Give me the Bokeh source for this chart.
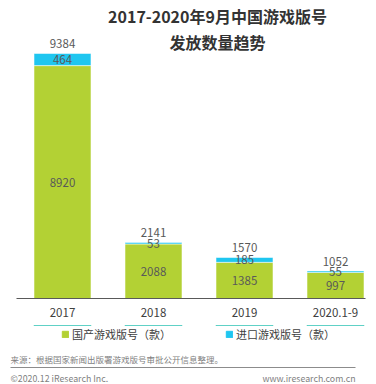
from bokeh.plotting import figure
from bokeh.layouts import column
from bokeh.models import (ColumnDataSource, LabelSet, Label, Legend, LegendItem,
                          FixedTicker, BoxAnnotation, Range1d)
from bokeh.core.properties import value
from bokeh.embed import file_html
from bokeh.resources import INLINE

categories = ["2017", "2018", "2019", "2020.1-9"]
domestic = [8920, 2088, 1385, 997]
imported = [464, 53, 185, 55]
totals = [9384, 2141, 1570, 1052]
series_names = ["国产游戏版号（款）", "进口游戏版号（款）"]

GREEN = "#B3D134"
CYAN = "#1FC6F0"
FONT = "Noto Sans CJK SC"

xs = list(range(len(categories)))
src = ColumnDataSource(dict(
    x=xs, domestic=domestic, imported=imported, total=totals,
    dom_mid=[d / 2 for d in domestic],
    imp_mid=[d + i / 2 for d, i in zip(domestic, imported)],
    dom_txt=[str(v) for v in domestic],
    imp_txt=[str(v) for v in imported],
    tot_txt=[str(v) for v in totals],
))

# ---------------- main chart ----------------
p = figure(width=376, height=325, output_backend="svg", toolbar_location=None,
           x_range=(-0.6813, 3.4505), y_range=(0, 11414), y_axis_location=None,
           min_border_left=0, min_border_right=0, min_border_top=0,
           min_border_bottom=27, background_fill_color="white",
           border_fill_color="white", outline_line_color=None)
p.grid.visible = False

p.vbar_stack(["domestic", "imported"], x="x", width=0.626, source=src,
             color=[GREEN, CYAN], line_color="white", line_alpha=0.5)

ax = p.xaxis[0]
ax.bounds = (-0.5055, 3.33)
ax.ticker = FixedTicker(ticks=xs)
ax.major_label_overrides = {i: c for i, c in enumerate(categories)}
ax.axis_line_color = "#595959"
ax.major_tick_line_color = None
ax.minor_tick_line_color = None
ax.major_label_standoff = 3
ax.major_label_text_font = FONT
ax.major_label_text_font_size = "11.5px"
ax.major_label_text_color = "#404040"

common = dict(source=src, text_align="center", text_baseline="middle",
              text_font_size="11.5px", text_color="#595959",
              text_font=value(FONT))
p.add_layout(LabelSet(x="x", y="dom_mid", text="dom_txt", **common))
p.add_layout(LabelSet(x="x", y="imp_mid", text="imp_txt", **common))
p.add_layout(LabelSet(x="x", y="total", text="tot_txt", y_offset=10, **common))

# title (screen units relative to frame: left=0, bottom=298)
for txt, yy in [("2017-2020年9月中国游戏版号", 283), ("发放数量趋势", 257)]:
    p.add_layout(Label(x=217, y=yy, x_units="screen", y_units="screen", text=txt,
                       text_align="center", text_baseline="middle",
                       text_font=FONT, text_font_size="16px",
                       text_font_style="bold", text_color="#333333"))

# ---------------- legend + footer strip ----------------
q = figure(width=376, height=59, output_backend="svg", toolbar_location=None,
           x_range=Range1d(-0.6813, 3.4505), y_range=Range1d(-2, -1),
           x_axis_location=None, y_axis_location=None,
           min_border=0, background_fill_color="white",
           border_fill_color="white", outline_line_color=None)
q.grid.visible = False
# same series, outside the visible y range: only used to feed the legend
rq = q.vbar_stack(["domestic", "imported"], x="x", width=0.626, source=src,
                  color=[GREEN, CYAN])

legend = Legend(items=[LegendItem(label=series_names[0], renderers=[rq[0]]),
                       LegendItem(label=series_names[1], renderers=[rq[1]])],
                orientation="horizontal", location=(61, 42), spacing=54,
                glyph_width=8, glyph_height=8, label_standoff=3,
                label_text_font=FONT, label_text_font_size="11px",
                label_text_color="#404040", border_line_color=None,
                background_fill_alpha=0, padding=0, margin=0)
q.add_layout(legend)

q.add_layout(Label(x=10, y=26, x_units="screen", y_units="screen",
                   text="来源：根据国家新闻出版署游戏版号审批公开信息整理。",
                   text_align="left", text_baseline="middle", text_font=FONT,
                   text_font_size="8.5px", text_color="#7f7f7f"))
q.add_layout(Label(x=10, y=6, x_units="screen", y_units="screen",
                   text="©2020.12 iResearch Inc.", text_align="left",
                   text_baseline="middle", text_font=FONT,
                   text_font_size="8.8px", text_color="#7f7f7f"))
q.add_layout(Label(x=355, y=6, x_units="screen", y_units="screen",
                   text="www.iresearch.com.cn", text_align="right",
                   text_baseline="middle", text_font=FONT,
                   text_font_size="8.8px", text_color="#7f7f7f"))
q.add_layout(BoxAnnotation(left=10, right=355, bottom=16.5, top=17.5,
                           left_units="screen", right_units="screen",
                           bottom_units="screen", top_units="screen",
                           fill_color="#8c8c8c", fill_alpha=1,
                           line_color=None))

layout = column(p, q, spacing=0)
open("out.html", "w").write(file_html(layout, INLINE))
